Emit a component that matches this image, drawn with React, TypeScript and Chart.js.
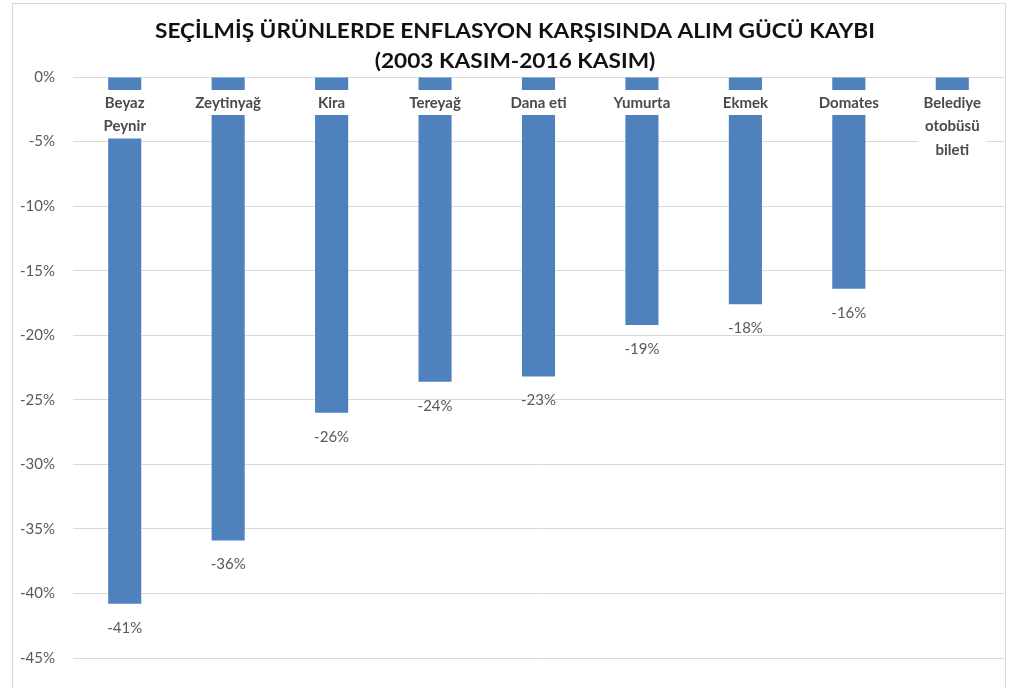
import React, { useEffect, useRef } from "react";
import { Chart, registerables } from "chart.js";

Chart.register(...registerables);

const titleLines = ["SEÇİLMİŞ ÜRÜNLERDE ENFLASYON KARŞISINDA ALIM GÜCÜ KAYBI", "(2003 KASIM-2016 KASIM)"];
const categories: string[][] = [
  ["Beyaz", "Peynir"],
  ["Zeytinyağ"],
  ["Kira"],
  ["Tereyağ"],
  ["Dana eti"],
  ["Yumurta"],
  ["Ekmek"],
  ["Domates"],
  ["Belediye", "otobüsü", "bileti"],
];
const values = [-40.8, -35.9, -26.0, -23.6, -23.2, -19.2, -17.6, -16.4, -4.0];
const yMin = -45;
const yMax = 0;
const yStep = 5;

const BAR = "#4f81bd";
const GRID = "#d9d9d9";
const TEXT = "#595959";

const overlayPlugin = {
  id: "overlay",
  beforeDraw(chart: any) {
    const ctx = chart.ctx;
    ctx.save();
    ctx.fillStyle = "#ffffff";
    ctx.fillRect(0, 0, chart.width, chart.height);
    ctx.strokeStyle = GRID;
    ctx.lineWidth = 1;
    ctx.strokeRect(12.5, 3.5, 993, 720);
    // title
    ctx.fillStyle = "#111111";
    ctx.font = "bold 21px Lato";
    ctx.textAlign = "center";
    ctx.textBaseline = "middle";
    const w1 = ctx.measureText(titleLines[0]).width;
    const sx = 720 / w1;
    const ys = [31, 61];
    titleLines.forEach((t, i) => {
      ctx.save();
      ctx.translate(515, ys[i]);
      ctx.scale(sx, 1);
      ctx.fillText(t, 0, 0);
      ctx.restore();
    });
    ctx.restore();
  },
  afterDatasetsDraw(chart: any) {
    const ctx = chart.ctx;
    const meta = chart.getDatasetMeta(0);
    const yScale = chart.scales.y;
    ctx.save();
    // data labels
    ctx.font = "15px Lato";
    ctx.fillStyle = TEXT;
    ctx.textAlign = "center";
    ctx.textBaseline = "middle";
    meta.data.forEach((bar: any, i: number) => {
      const v = values[i];
      const y = yScale.getPixelForValue(v) + 24;
      ctx.fillText(`${Math.round(v)}%`, bar.x, y);
    });
    // category labels with white boxes
    ctx.font = "bold 15px Lato";
    const top = 90;
    const lh = 23.5;
    meta.data.forEach((bar: any, i: number) => {
      const lines = categories[i];
      const w = Math.max(...lines.map((l) => ctx.measureText(l).width)) + 10;
      const h = 25 + (lines.length - 1) * lh;
      ctx.fillStyle = "#ffffff";
      ctx.fillRect(bar.x - w / 2, top, w, h);
      ctx.fillStyle = "#4a4a4a";
      lines.forEach((l, j) => {
        ctx.fillText(l, bar.x, top + 13 + j * lh);
      });
    });
    ctx.restore();
  },
};

export default function App() {
  const ref = useRef<HTMLCanvasElement>(null);
  useEffect(() => {
    document.body.style.margin = "0";
    const chart = new Chart(ref.current!, {
      type: "bar",
      data: {
        labels: categories.map((c) => c.join(" ")),
        datasets: [
          {
            data: values,
            backgroundColor: BAR,
            borderWidth: 0,
            barPercentage: 0.32,
            categoryPercentage: 1,
          },
        ],
      },
      options: {
        animation: false,
        responsive: false,
        layout: { padding: { top: 77, left: 0, right: 8, bottom: 30 } },
        plugins: { legend: { display: false }, tooltip: { enabled: false }, title: { display: false } },
        scales: {
          x: { display: false },
          y: {
            min: yMin,
            max: yMax,
            afterFit(scale: any) {
              scale.width = 73;
            },
            border: { display: false },
            grid: { color: GRID, lineWidth: 1, drawTicks: false },
            ticks: {
              stepSize: yStep,
              padding: 18,
              color: TEXT,
              font: { family: "Lato", size: 15 },
              callback: (v: any) => `${v}%`,
            },
          },
        },
      },
      plugins: [overlayPlugin],
    });
    return () => chart.destroy();
  }, []);
  return (
    <div style={{ position: "fixed", left: 0, top: 0, width: 1012, height: 688 }}>
      <canvas ref={ref} width={1012} height={688} />
    </div>
  );
}
